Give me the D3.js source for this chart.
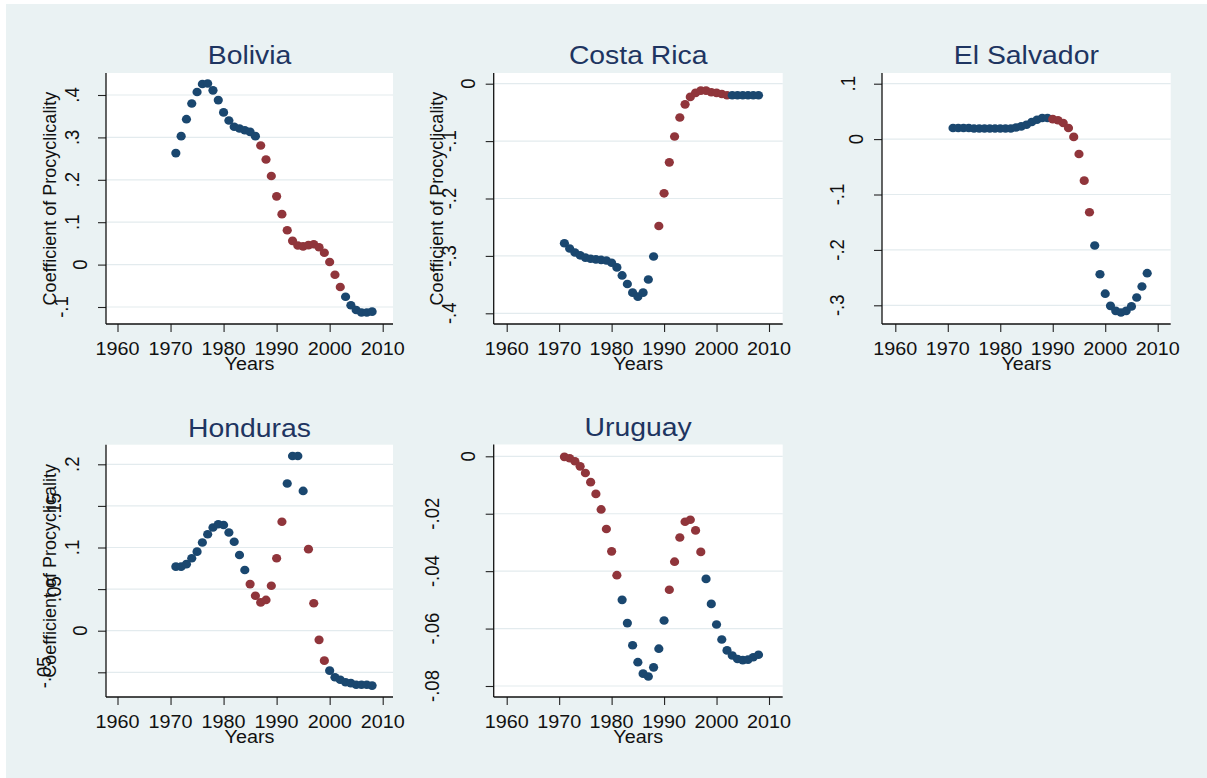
<!DOCTYPE html>
<html><head><meta charset="utf-8">
<script src="https://cdn.jsdelivr.net/npm/d3@7"></script>
<style>body{margin:0;background:#fff}</style>
</head><body>
<svg id="c" width="1207" height="778"></svg>
<script>
// ---------- data ----------
const years = [1971,1972,1973,1974,1975,1976,1977,1978,1979,1980,1981,1982,1983,1984,1985,1986,1987,1988,1989,1990,
               1991,1992,1993,1994,1995,1996,1997,1998,1999,2000,2001,2002,2003,2004,2005,2006,2007,2008];
const xTicks = [1960,1970,1980,1990,2000,2010];

const bolivia = [0.263,0.303,0.343,0.380,0.407,0.426,0.427,0.411,0.388,0.359,0.340,0.325,0.321,0.317,0.313,0.303,
                 0.281,0.248,0.209,0.161,0.119,0.081,0.056,0.045,0.043,0.046,0.048,0.041,0.028,0.006,-0.024,-0.053,
                 -0.076,-0.096,-0.107,-0.113,-0.113,-0.111];
const boliviaRed = [[1987,2002]];
const boliviaTicks = [-0.1,0,0.1,0.2,0.3,0.4];
const boliviaTickLabels = ["-.1","0",".1",".2",".3",".4"];

const costaRica = [-0.278,-0.287,-0.294,-0.299,-0.303,-0.305,-0.306,-0.307,-0.308,-0.312,-0.320,-0.334,-0.349,-0.364,
                   -0.371,-0.364,-0.341,-0.301,-0.248,-0.191,-0.137,-0.092,-0.059,-0.036,-0.023,-0.016,-0.012,-0.012,
                   -0.015,-0.016,-0.018,-0.020,-0.020,-0.020,-0.020,-0.020,-0.020,-0.020];
const costaRicaRed = [[1989,2002]];
const costaRicaTicks = [-0.4,-0.3,-0.2,-0.1,0];
const costaRicaTickLabels = ["-.4","-.3","-.2","-.1","0"];

const elSalvador = [0.020,0.020,0.020,0.020,0.019,0.019,0.019,0.019,0.019,0.019,0.019,0.019,0.021,0.023,0.026,0.031,
                    0.035,0.038,0.038,0.036,0.034,0.029,0.020,0.004,-0.027,-0.075,-0.132,-0.192,-0.244,-0.279,-0.301,
                    -0.310,-0.313,-0.310,-0.302,-0.286,-0.266,-0.242];
const elSalvadorRed = [[1990,1997]];
const elSalvadorTicks = [-0.3,-0.2,-0.1,0,0.1];
const elSalvadorTickLabels = ["-.3","-.2","-.1","0",".1"];

const honduras = [0.077,0.077,0.080,0.087,0.095,0.106,0.116,0.124,0.128,0.127,0.118,0.107,0.091,0.073,0.056,0.042,
                  0.034,0.037,0.054,0.087,0.131,0.177,0.210,0.210,0.168,0.098,0.033,-0.011,-0.036,-0.048,-0.056,
                  -0.059,-0.062,-0.063,-0.065,-0.065,-0.065,-0.066];
const hondurasRed = [[1985,1991],[1996,1999]];
const hondurasTicks = [-0.05,0,0.05,0.1,0.15,0.2];
const hondurasTickLabels = ["-.05","0",".05",".1",".15",".2"];

const uruguay = [-0.0002,-0.0007,-0.0017,-0.0035,-0.0058,-0.0090,-0.0131,-0.0185,-0.0253,-0.0331,-0.0414,-0.0500,
                 -0.0581,-0.0658,-0.0717,-0.0757,-0.0767,-0.0735,-0.0670,-0.0572,-0.0465,-0.0367,-0.0283,-0.0228,
                 -0.0221,-0.0258,-0.0333,-0.0427,-0.0514,-0.0586,-0.0638,-0.0676,-0.0694,-0.0706,-0.0710,-0.0708,
                 -0.0700,-0.0691];
const uruguayRed = [[1971,1981],[1991,1997]];
const uruguayTicks = [-0.08,-0.06,-0.04,-0.02,0];
const uruguayTickLabels = ["-.08","-.06","-.04","-.02","0"];

const yTitle = "Coefficient of Procyclicality";
const xTitle = "Years";

// ---------- layout ----------
const BLUE = "#1a476f", RED = "#90353b", BG = "#eaf2f3", TITLE = "#1e3561";
const panels = [
  {name:"Bolivia", vals:bolivia, red:boliviaRed, ticks:boliviaTicks, labels:boliviaTickLabels, ytitle:true,
   box:[106,393,73,324], xr:[117.5,382.7], yr:[307,95]},
  {name:"Costa Rica", vals:costaRica, red:costaRicaRed, ticks:costaRicaTicks, labels:costaRicaTickLabels, ytitle:true,
   box:[493.7,782.7,73,324], xr:[506.7,769], yr:[313.3,83.7]},
  {name:"El Salvador", vals:elSalvador, red:elSalvadorRed, ticks:elSalvadorTicks, labels:elSalvadorTickLabels, ytitle:false,
   box:[882,1170.7,73,324], xr:[895.3,1157.7], yr:[305.3,83.7]},
  {name:"Honduras", vals:honduras, red:hondurasRed, ticks:hondurasTicks, labels:hondurasTickLabels, ytitle:true,
   box:[106,393,444.7,697], xr:[117.5,382.7], yr:[672.3,464.3]},
  {name:"Uruguay", vals:uruguay, red:uruguayRed, ticks:uruguayTicks, labels:uruguayTickLabels, ytitle:false,
   box:[493.7,782.7,444.5,697], xr:[506.7,769], yr:[686,456.3]}
];

const svg = d3.select("#c");
svg.append("rect").attr("x",6).attr("y",4).attr("width",1201).attr("height",774).attr("fill",BG);
const FONT = "'Liberation Sans', Arial, sans-serif";
const SX = 1.07;

function hText(g, x, y, txt, size, color){
  return g.append("text").attr("transform",`translate(${x},${y}) scale(${SX},1)`)
    .attr("text-anchor","middle").attr("font-family",FONT).attr("font-size",size)
    .attr("fill",color).text(txt);
}

panels.forEach(p => {
  const [x0,x1,y0,y1] = p.box;
  const g = svg.append("g");
  const x = d3.scaleLinear().domain([1960,2010]).range(p.xr);
  const y = d3.scaleLinear().domain([p.ticks[0], p.ticks[p.ticks.length-1]]).range(p.yr);

  g.append("rect").attr("x",x0).attr("y",y0).attr("width",x1-x0).attr("height",y1-y0).attr("fill","#fff");

  // gridlines
  g.selectAll(".grid").data(p.ticks).enter().append("line")
    .attr("x1",x0).attr("x2",x1).attr("y1",d=>y(d)).attr("y2",d=>y(d))
    .attr("stroke","#e3ebee").attr("stroke-width",1.2);

  // x axis
  const xa = g.append("g").attr("transform",`translate(0,${y1})`)
    .call(d3.axisBottom(x).tickValues(xTicks).tickSize(8).tickFormat(""));
  xa.select(".domain").remove();
  xa.selectAll("line").attr("stroke","#222").attr("stroke-width",1.1);
  xTicks.forEach(t => hText(g, x(t), y1+30.5, String(t), 18.5, "#111"));
  hText(g, (x0+x1)/2, y1+45.5, xTitle, 18.5, "#111");

  // y axis
  const ya = g.append("g").attr("transform",`translate(${x0},0)`)
    .call(d3.axisLeft(y).tickValues(p.ticks).tickSize(8).tickFormat(""));
  ya.select(".domain").remove();
  ya.selectAll("line").attr("stroke","#222").attr("stroke-width",1.1);

  // axis lines
  g.append("line").attr("x1",x0).attr("x2",x0).attr("y1",y0).attr("y2",y1).attr("stroke","#111").attr("stroke-width",1.3);
  g.append("line").attr("x1",x0).attr("x2",x1).attr("y1",y1).attr("y2",y1).attr("stroke","#111").attr("stroke-width",1.3);

  // y title (drawn first so tick labels overlap it as in reference)
  if (p.ytitle) {
    g.append("text").attr("transform",`translate(${x0-50.5},${(y0+y1)/2}) rotate(-90)`)
      .attr("text-anchor","middle").attr("font-family",FONT).attr("font-size",18).attr("fill","#111").text(yTitle);
  }

  // rotated y tick labels
  p.ticks.forEach((t,i) => {
    const tx = g.append("text").attr("font-family",FONT).attr("font-size",18.5).attr("fill","#111")
      .attr("text-anchor","middle").attr("dominant-baseline","central").text(p.labels[i]);
    const w = tx.node().getComputedTextLength();
    const cx = x0 - (8.1 + 1.68*w);
    tx.attr("transform",`translate(${cx},${y(t)}) rotate(-90) scale(1,${SX})`);
  });

  // dots
  const isRed = yr => p.red.some(r => yr>=r[0] && yr<=r[1]);
  g.selectAll(".dot").data(years.map((yr,i)=>({yr, v:p.vals[i]}))).enter().append("ellipse")
    .attr("cx",d=>x(d.yr)).attr("cy",d=>y(d.v)).attr("rx",4.6).attr("ry",4.3)
    .attr("fill",d=>isRed(d.yr)?RED:BLUE);

  // title
  hText(g, (x0+x1)/2, y0 - (p.box[2] < 100 ? 9 : 8.2), p.name, 26.5, TITLE);
});
</script>
</body></html>
